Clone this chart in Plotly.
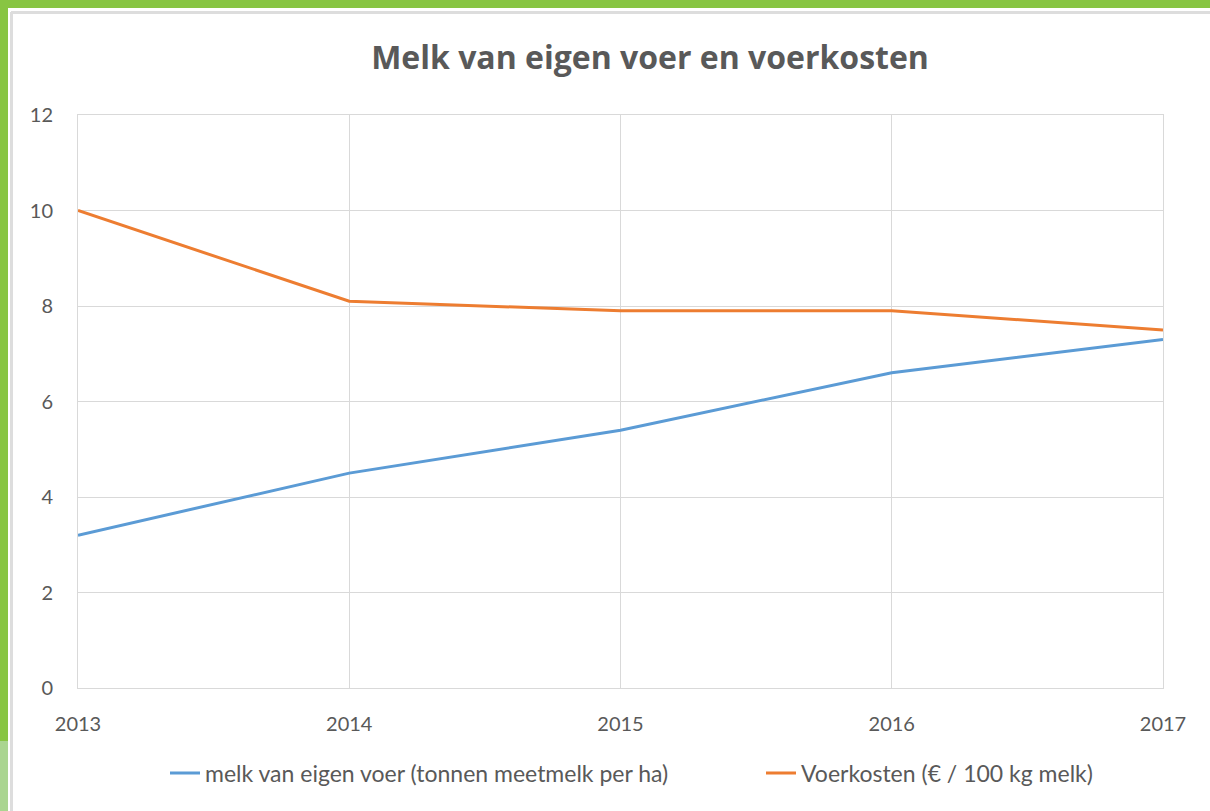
import plotly.graph_objects as go

years = [2013, 2014, 2015, 2016, 2017]
melk_eigen_voer = [3.2, 4.5, 5.4, 6.6, 7.3]
voerkosten = [10.0, 8.1, 7.9, 7.9, 7.5]
y_ticks = [0, 2, 4, 6, 8, 10, 12]

W, H = 1210, 811
L, R, T, B = 78, 1163, 115, 688


def px(x):
    return (x - L) / (R - L)


def py(y):
    return (B - y) / (B - T)


fig = go.Figure()
fig.add_trace(go.Scatter(
    x=years, y=melk_eigen_voer, mode="lines",
    name="melk van eigen voer (tonnen meetmelk per ha)",
    line=dict(color="#5B9BD5", width=3), legend="legend"))
fig.add_trace(go.Scatter(
    x=years, y=voerkosten, mode="lines",
    name="Voerkosten (€ / 100 kg melk)",
    line=dict(color="#ED7D31", width=3), legend="legend2"))

shapes = [
    # green frame top
    dict(type="rect", xref="paper", yref="paper", x0=px(0), x1=px(W), y0=py(0), y1=py(8),
         fillcolor="#88C543", line=dict(width=0), layer="above"),
    # green frame left
    dict(type="rect", xref="paper", yref="paper", x0=px(0), x1=px(8), y0=py(0), y1=py(741),
         fillcolor="#88C543", line=dict(width=0), layer="above"),
    dict(type="rect", xref="paper", yref="paper", x0=px(0), x1=px(8), y0=py(741), y1=py(H),
         fillcolor="#AAD590", line=dict(width=0), layer="above"),
    # light gray inner border
    dict(type="line", xref="paper", yref="paper", x0=px(11), x1=px(W), y0=py(12.5), y1=py(12.5),
         line=dict(color="#DDDDDD", width=3), layer="above"),
    dict(type="line", xref="paper", yref="paper", x0=px(11.5), x1=px(11.5), y0=py(12), y1=py(H),
         line=dict(color="#DDDDDD", width=3), layer="above"),
]

legend_font = dict(family="Lato", size=23, color="#595959")

fig.update_layout(
    width=W, height=H,
    margin=dict(l=L, r=W - R, t=T, b=H - B),
    paper_bgcolor="white", plot_bgcolor="white",
    title=dict(text="<b>Melk van eigen voer en voerkosten</b>", x=650 / W, xanchor="center",
               y=1 - 58 / H, yanchor="middle",
               font=dict(family="Open Sans", size=32, color="#595959")),
    font=dict(family="Lato", color="#595959", size=20),
    xaxis=dict(range=[2013, 2017], tickvals=years, ticktext=[str(y) for y in years],
               showgrid=True, gridcolor="#D9D9D9", gridwidth=1,
               showline=True, linecolor="#D9D9D9", linewidth=1, mirror=True,
               zeroline=False, ticks="outside", ticklen=18, tickcolor="rgba(0,0,0,0)",
               tickfont=dict(size=20, color="#595959")),
    yaxis=dict(range=[0, 12], tickvals=y_ticks, showgrid=True, gridcolor="#D9D9D9",
               gridwidth=1, zeroline=False, showline=True, linecolor="#D9D9D9",
               mirror=True, ticks="outside", ticklen=20, tickcolor="rgba(0,0,0,0)",
               tickfont=dict(size=20, color="#595959")),
    legend=dict(orientation="h", x=px(165), xanchor="left", y=py(773), yanchor="middle",
                font=legend_font),
    legend2=dict(orientation="h", x=px(761), xanchor="left", y=py(773), yanchor="middle",
                 font=legend_font),
    shapes=shapes,
    showlegend=True,
)

fig.write_html(
    "out.html",
    config={"displayModeBar": False},
    post_script="document.body.style.margin='0';document.body.style.overflow='hidden';",
)
